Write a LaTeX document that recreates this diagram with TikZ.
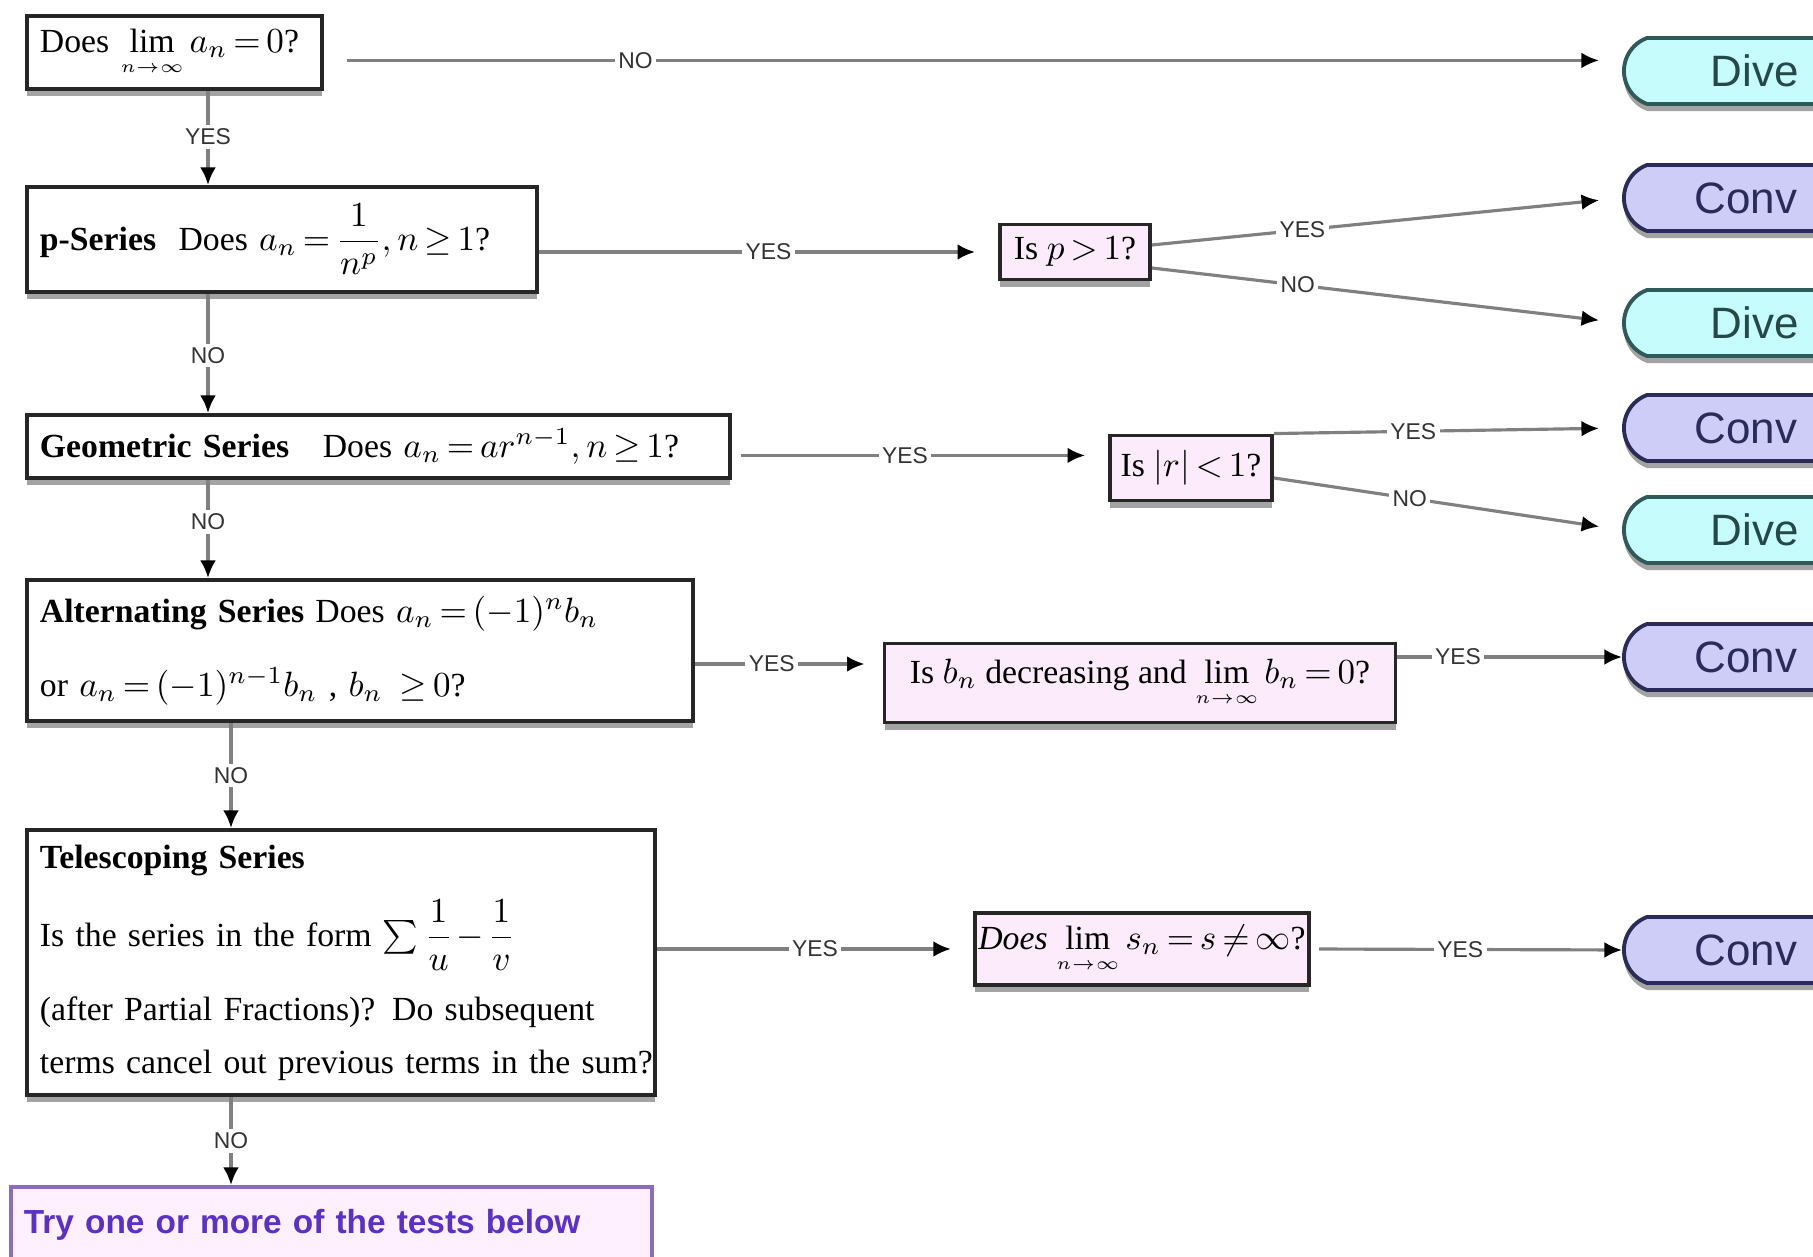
\documentclass[tikz,border=0pt]{standalone}
\usepackage{fontspec}
\setmainfont{Liberation Serif}
\setsansfont{Liberation Sans}
\usepackage{amsmath, amssymb}
\usetikzlibrary{arrows.meta, shapes.misc, shadows}

\definecolor{askfill}{HTML}{FBEBFB}
\definecolor{divfill}{HTML}{C6FCFC}
\definecolor{divline}{HTML}{2E5A5A}
\definecolor{convfill}{HTML}{CDCDF7}
\definecolor{convline}{HTML}{2B2B5A}
\definecolor{tryline}{HTML}{8A6CBE}
\definecolor{tryfill}{HTML}{FFF0FF}
\definecolor{trytext}{HTML}{5A30C8}
\newcommand{\limn}{\lim\limits_{\scriptscriptstyle n\to\infty}}

\begin{document}
\begin{tikzpicture}[font={\fontsize{9.6}{15}\selectfont\thickmuskip=3mu\medmuskip=2mu},
	shade/.style={drop shadow={shadow xshift=0pt, shadow yshift=-2pt, fill=black!45, opacity=.8}},
	test/.style={draw=black!85, line width=1.1pt, fill=white, anchor=north west, align=left, inner xsep=0.13cm, inner ysep=0pt, shade},
	ask/.style={draw=black!85, line width=1.1pt, fill=askfill, inner sep=1pt, shade},
	term/.style={rounded rectangle, rounded rectangle right arc=none, rounded rectangle arc length=140, anchor=west, minimum height=0.66cm, text width=2cm, align=left, line width=1.1pt, inner ysep=0pt, font=\sffamily\fontsize{12.5}{14}\selectfont, shade},
	dive/.style={term, draw=divline, fill=divfill, text=divline!80!black, inner xsep=0.83cm},
	conv/.style={term, draw=convline, fill=convfill, text=convline, inner xsep=0.67cm},
	arr/.style={draw=black!50, line width=0.9pt, -{Latex[length=5pt, width=4.5pt, color=black]}},
	lbl/.style={font=\sffamily\fontsize{6.5}{7}\selectfont, fill=white, inner sep=1pt, text=black!80}]
	\useasboundingbox (0,0) rectangle (18.13,-12.57);
	\clip (0,0) rectangle (18.13,-12.57);
	\coordinate (vx) at (2.08,0);
	\coordinate (wx) at (2.31,0);

	\node[test, text width=2.69cm, minimum height=0.73cm] (b1) at (0.25,-0.14) {\mbox{Does $\limn a_n = 0$?}};
	\node[test, text width=4.84cm, minimum height=1.05cm] (b2) at (0.25,-1.85) {\mbox{\textbf{p-Series}~~Does $a_n = \dfrac{1}{n^p}, n \ge 1$?}};
	\node[test, text width=6.77cm, minimum height=0.63cm] (b3) at (0.25,-4.13) {\mbox{\textbf{Geometric Series}~~~Does $a_n = ar^{n-1}, n \ge 1$?}};
	\node[test, text width=6.40cm, minimum height=1.41cm] (b4) at (0.25,-5.78) {\mbox{\textbf{Alternating Series} Does $a_n = (-1)^n b_n$}\\[6pt] \mbox{or $a_n = (-1)^{n-1} b_n$ , $b_n\ \ge 0$?}};
	\node[test, text width=6.02cm, minimum height=2.65cm] (b5) at (0.25,-8.28) {\mbox{\textbf{Telescoping Series}}\\[6pt] \mbox{Is the series in the form $\sum\dfrac{1}{u}-\dfrac{1}{v}$}\\[6pt] \mbox{(after Partial Fractions)? Do subsequent}\\ \mbox{terms cancel out previous terms in the sum?}};
	\node[test, draw=tryline, fill=tryfill, text=trytext, text width=6.15cm, minimum height=0.76cm, font=\sffamily\bfseries\fontsize{9.5}{11}\selectfont] (try) at (0.09,-11.85) {Try one or more of the tests below};

	\node[ask, minimum width=1.5cm, minimum height=0.55cm] (pbox) at (10.75,-2.52) {Is $p > 1$?};
	\node[ask, minimum width=1.62cm, minimum height=0.65cm] (rbox) at (11.91,-4.68) {Is $|r| < 1$?};
	\node[ask, minimum width=5.11cm, minimum height=0.79cm] (bbox) at (11.40,-6.83) {Is $b_n$ decreasing and $\limn b_n = 0$?};
	\node[ask, minimum width=3.29cm, minimum height=0.72cm] (sbox) at (11.42,-9.49) {\textit{Does} $\limn s_n = s \neq \infty$?};

	\node[dive] (d1) at (16.22,-0.71) {Dive};
	\node[conv] (c2) at (16.22,-1.98) {Conv};
	\node[dive] (d3) at (16.22,-3.23) {Dive};
	\node[conv] (c4) at (16.22,-4.28) {Conv};
	\node[dive] (d5) at (16.22,-5.30) {Dive};
	\node[conv] (c6) at (16.22,-6.57) {Conv};
	\node[conv] (c7) at (16.22,-9.50) {Conv};

	\draw[arr, shorten <=0.23cm, shorten >=0.23cm] ([yshift=-0.08cm]b1.east) -- ([yshift=-0.08cm]b1.east -| d1.west) node[lbl, pos=.24] (l1) {NO};
	\draw[arr] (b1.south -| vx) -- (b2.north -| vx) node[lbl, pos=.49] (l2) {YES};
	\draw[arr, shorten >=0.23cm] (b2.east |- pbox.west) -- (pbox.west) node[lbl, pos=.5] (l3) {YES};
	\draw[arr, shorten >=0.23cm] ([yshift=0.07cm]pbox.east) -- (c2.west) node[lbl, pos=.32] (l4) {YES};
	\draw[arr, shorten >=0.23cm] ([yshift=-0.16cm]pbox.east) -- (d3.west) node[lbl, pos=.31] (l5) {NO};
	\draw[arr] (b2.south -| vx) -- (b3.north -| vx) node[lbl, pos=.52] (l6) {NO};
	\draw[arr, shorten <=0.09cm, shorten >=0.23cm] ([yshift=-0.09cm]b3.east) -- ([yshift=-0.09cm]b3.east -| rbox.west) node[lbl, pos=.46] (l7) {YES};
	\draw[arr, shorten >=0.23cm] (rbox.north east) -- (c4.west) node[lbl, pos=.40] (l8) {YES};
	\draw[arr, shorten >=0.23cm] ([yshift=-0.1cm]rbox.east) -- (d5.west) node[lbl, pos=.39] (l9) {NO};
	\draw[arr] (b3.south -| vx) -- (b4.north -| vx) node[lbl, pos=.43] (l10) {NO};
	\coordinate (bin) at ([yshift=0.19cm]bbox.west);
	\draw[arr, shorten >=0.18cm] (b4.east |- bin) -- (bin) node[lbl, pos=.41] (l11) {YES};
	\draw[arr] (bbox.east |- c6.west) -- (c6.west) node[lbl, pos=.27] (l12) {YES};
	\draw[arr] (b4.south -| wx) -- (b5.north -| wx) node[lbl, pos=.5] (l13) {NO};
	\draw[arr, shorten >=0.22cm] (b5.east |- sbox.west) -- (sbox.west) node[lbl, pos=.5] (l14) {YES};
	\draw[arr, shorten <=0.08cm] (sbox.east) -- (c7.west) node[lbl, pos=.48] (l15) {YES};
	\draw[arr] (b5.south -| wx) -- (try.north -| wx) node[lbl, pos=.5] (l16) {NO};
\end{tikzpicture}
\end{document}
